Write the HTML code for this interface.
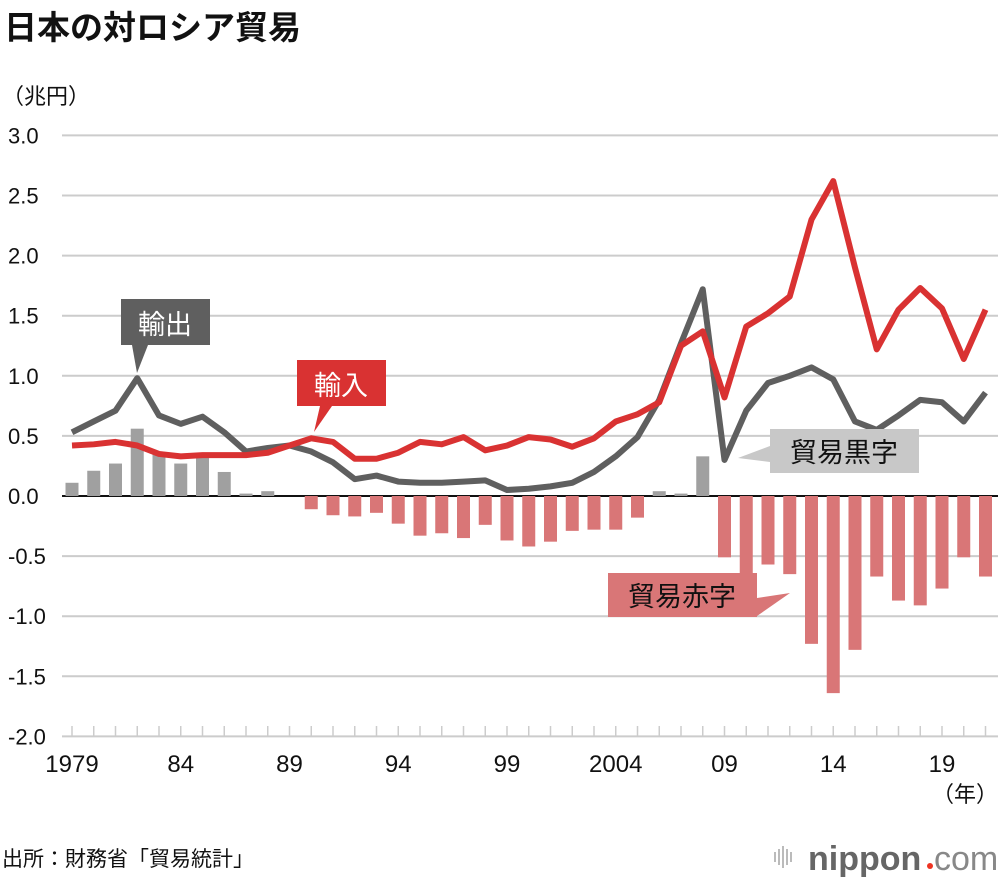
<!DOCTYPE html>
<html><head><meta charset="utf-8"><style>
body{margin:0;background:#fff;}
svg text{font-family:"Liberation Sans","Noto Sans CJK JP",sans-serif;}
</style></head><body>
<svg width="1000" height="880" xmlns="http://www.w3.org/2000/svg">
<text x="4" y="39" font-size="33" font-weight="bold" fill="#111">日本の対ロシア貿易</text>
<text x="2" y="104" font-size="22" fill="#111">（兆円）</text>
<g id="grid"></g><g id="bars"></g><g id="lines"></g><g id="xaxis"></g>
<g>
<rect x="121" y="299" width="89" height="46" fill="#5f5f5f"/>
<polygon points="132,345 148,345 137,373" fill="#5f5f5f"/>
<text x="165" y="334" font-size="27" fill="#fff" text-anchor="middle">輸出</text></g>
<g>
<rect x="297" y="360" width="89" height="46" fill="#d93232"/>
<polygon points="320,406 332,406 314,432" fill="#d93232"/>
<text x="341" y="395" font-size="27" fill="#fff" text-anchor="middle">輸入</text></g>
<g>
<rect x="770" y="429" width="149" height="44" fill="#c8c8c8"/>
<polygon points="770,446 770,462 738,458" fill="#c8c8c8"/>
<text x="844" y="462" font-size="27" fill="#111" text-anchor="middle">貿易黒字</text></g>
<g>
<rect x="608" y="573" width="149" height="44" fill="#d97677"/>
<polygon points="757,598 757,616 790,593" fill="#d97677"/>
<text x="682" y="606" font-size="27" fill="#111" text-anchor="middle">貿易赤字</text></g>
<text x="998" y="802" font-size="22" fill="#111" text-anchor="end">（年）</text>
<text x="2" y="866" font-size="21" fill="#111">出所：財務省「貿易統計」</text>
<g>
<g stroke="#bbb" stroke-width="2"><line x1="775" y1="852" x2="775" y2="862"/><line x1="779" y1="849" x2="779" y2="865"/><line x1="783" y1="846" x2="783" y2="868"/><line x1="787" y1="849" x2="787" y2="865"/><line x1="791" y1="852" x2="791" y2="862"/></g>
<text x="808" y="870" font-size="34" fill="#666" font-weight="bold">nippon</text>
<circle cx="930" cy="866" r="3" fill="#e32"/>
<text x="934" y="870" font-size="34" fill="#888">com</text></g>
</svg>
<script>
const years=[];for(let y=1979;y<=2021;y++)years.push(y);
const exportsV=[0.53,0.62,0.71,0.98,0.67,0.60,0.66,0.53,0.37,0.40,0.42,0.37,0.28,0.14,0.17,0.12,0.11,0.11,0.12,0.13,0.05,0.06,0.08,0.11,0.20,0.33,0.49,0.80,1.27,1.72,0.30,0.71,0.94,1.00,1.07,0.97,0.62,0.55,0.67,0.80,0.78,0.62,0.86];
const importsV=[0.42,0.43,0.45,0.42,0.35,0.33,0.34,0.34,0.34,0.36,0.42,0.48,0.45,0.31,0.31,0.36,0.45,0.43,0.49,0.38,0.42,0.49,0.47,0.41,0.48,0.62,0.68,0.78,1.25,1.37,0.82,1.41,1.52,1.66,2.30,2.62,1.90,1.22,1.55,1.73,1.56,1.14,1.55];
const balanceV=[0.11,0.21,0.27,0.56,0.36,0.27,0.32,0.20,0.02,0.04,0.00,-0.11,-0.16,-0.17,-0.14,-0.23,-0.33,-0.31,-0.35,-0.24,-0.37,-0.42,-0.38,-0.29,-0.28,-0.28,-0.18,0.04,0.02,0.33,-0.51,-0.71,-0.57,-0.65,-1.23,-1.64,-1.28,-0.67,-0.87,-0.91,-0.77,-0.51,-0.67];
const yTicks=[3.0,2.5,2.0,1.5,1.0,0.5,0.0,-0.5,-1.0,-1.5,-2.0];
const xLabelYears=[1979,1984,1989,1994,1999,2004,2009,2014,2019];
const xLabels=["1979","84","89","94","99","2004","09","14","19"];
const NS="http://www.w3.org/2000/svg";
const X=y=>72+(y-1979)*21.75, Y=v=>496-v*120.2;
function mk(t,a,p){const e=document.createElementNS(NS,t);for(const k in a)e.setAttribute(k,a[k]);p.appendChild(e);return e;}
const grid=document.getElementById('grid');
yTicks.forEach(v=>{
 const l=mk('line',{x1:62,x2:998,y1:Y(v),y2:Y(v),stroke:v===0?'#111':'#ccc','stroke-width':2},grid);
 
 
 const t=mk('text',{x:8,y:Y(v)+8,'font-size':22,fill:'#111'},grid);t.textContent=v.toFixed(1);
 
 
});
const bars=document.getElementById('bars');
balanceV.forEach((v,i)=>{
 const x=X(years[i]);const r=mk('rect',{x:x-6.5,width:13,y:Math.min(Y(v),Y(0)),height:Math.abs(Y(v)-Y(0)),fill:v>=0?'#a0a0a0':'#d97677'},bars);
 
 
});
const lines=document.getElementById('lines');
[[exportsV,'#5f5f5f','export-line'],[importsV,'#d93232','import-line']].forEach(([d,c,n])=>{
 const p=mk('polyline',{points:d.map((v,i)=>X(years[i])+','+Y(v)).join(' '),fill:'none',stroke:c,'stroke-width':6,'stroke-linejoin':'round'},lines);
 
 
});
const xa=document.getElementById('xaxis');
years.forEach(y=>{const t=mk('line',{x1:X(y),x2:X(y),y1:726,y2:736,stroke:'#ccc','stroke-width':1.5},xa);
 
 });
xLabelYears.forEach((y,i)=>{const t=mk('text',{x:X(y),y:772,'font-size':24,fill:'#111','text-anchor':'middle'},xa);t.textContent=xLabels[i];
 
 });
</script>
</body></html>
